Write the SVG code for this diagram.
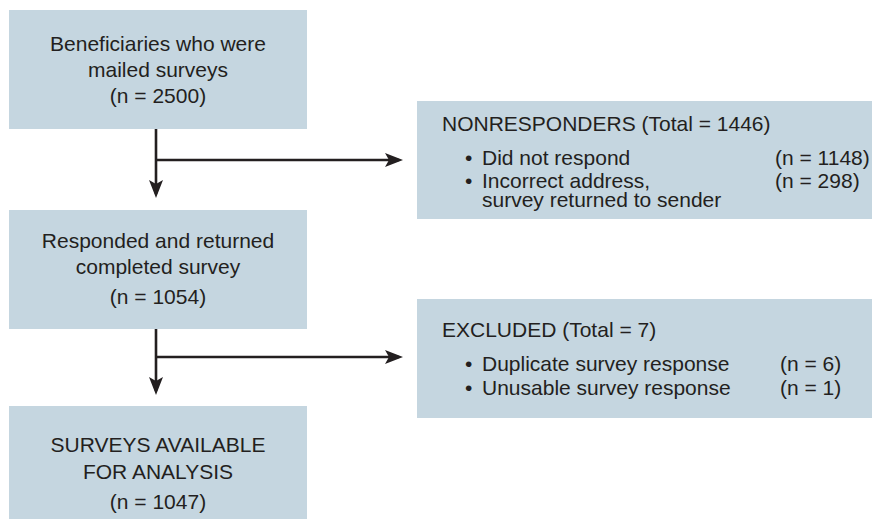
<svg xmlns="http://www.w3.org/2000/svg" width="872" height="519" viewBox="0 0 872 519">
  <style>
    .box { fill: #c5d6e0; }
    text { font-family: "Liberation Sans", Arial, Helvetica, sans-serif; font-size: 21px; fill: #231f20; }
    .c { text-anchor: middle; }
    .conn { stroke: #231f20; stroke-width: 2.6; fill: none; }
  </style>
  <defs>
    <marker id="arrow" markerUnits="userSpaceOnUse" markerWidth="18" markerHeight="14" viewBox="0 0 18 14" refX="14" refY="7" orient="auto">
      <path d="M0,0 L18,7 L0,14 L4,7 Z" fill="#231f20"/>
    </marker>
  </defs>
  <rect width="872" height="519" fill="#ffffff"/>

  <g id="mailed">
    <rect class="box" x="9" y="10" width="298" height="119"/>
    <text class="c" x="158" y="51">Beneficiaries who were</text>
    <text class="c" x="158" y="77">mailed surveys</text>
    <text class="c" x="158" y="103">(n = 2500)</text>
  </g>

  <g id="responded">
    <rect class="box" x="9" y="210" width="298" height="119"/>
    <text class="c" x="158" y="248">Responded and returned</text>
    <text class="c" x="158" y="274">completed survey</text>
    <text class="c" x="158" y="304">(n = 1054)</text>
  </g>

  <g id="available">
    <rect class="box" x="9" y="406" width="298" height="113"/>
    <text class="c" x="158" y="452">SURVEYS AVAILABLE</text>
    <text class="c" x="158" y="479">FOR ANALYSIS</text>
    <text class="c" x="158" y="509">(n = 1047)</text>
  </g>

  <g id="nonresponders">
    <rect class="box" x="417" y="101" width="455" height="118"/>
    <text x="442" y="131">NONRESPONDERS (Total = 1446)</text>
    <text x="465" y="165">•</text>
    <text x="482" y="165">Did not respond</text>
    <text x="775" y="165">(n = 1148)</text>
    <text x="465" y="188">•</text>
    <text x="482" y="188">Incorrect address,</text>
    <text x="775" y="188">(n = 298)</text>
    <text x="482" y="207">survey returned to sender</text>
  </g>

  <g id="excluded">
    <rect class="box" x="417" y="299" width="455" height="119"/>
    <text x="442" y="337">EXCLUDED (Total = 7)</text>
    <text x="465" y="371">•</text>
    <text x="482" y="371">Duplicate survey response</text>
    <text x="780" y="371">(n = 6)</text>
    <text x="465" y="395">•</text>
    <text x="482" y="395">Unusable survey response</text>
    <text x="780" y="395">(n = 1)</text>
  </g>

  <g id="connectors">
    <line class="conn" x1="156" y1="129" x2="156" y2="194" marker-end="url(#arrow)"/>
    <line class="conn" x1="156" y1="160" x2="399" y2="160" marker-end="url(#arrow)"/>
    <line class="conn" x1="156" y1="329" x2="156" y2="391" marker-end="url(#arrow)"/>
    <line class="conn" x1="156" y1="357" x2="399" y2="357" marker-end="url(#arrow)"/>
  </g>
</svg>
